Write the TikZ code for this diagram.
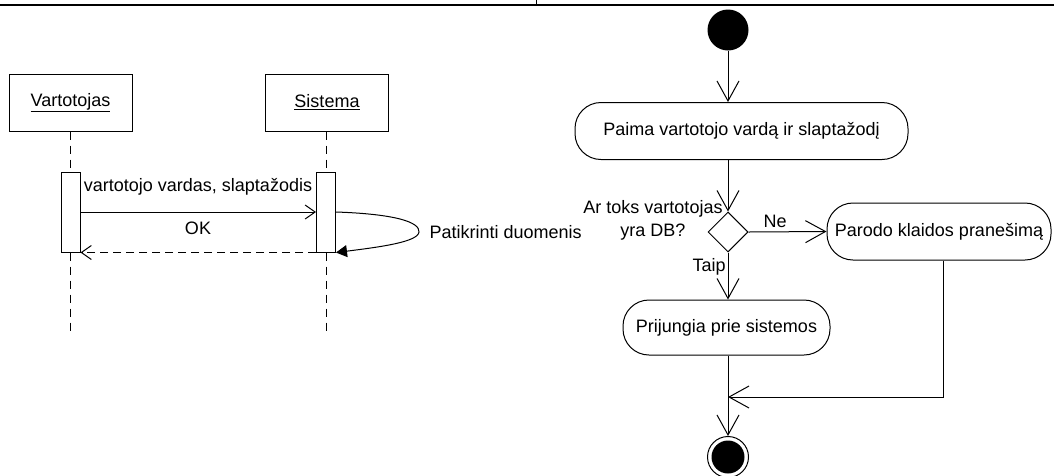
\documentclass[tikz,border=0pt]{standalone}
\usepackage{fontspec}
\setmainfont{Liberation Sans}
\usetikzlibrary{arrows.meta,shapes.geometric}
\begin{document}
\begin{tikzpicture}[x=1pt,y=-1pt,
  font=\fontsize{18}{22.5}\selectfont,
  line width=1pt,
  obj/.style={draw, minimum width=123pt, minimum height=57pt, inner sep=0pt},
  actbar/.style={draw, fill=white, minimum width=19pt, minimum height=80pt, inner sep=0pt},
  life/.style={dash pattern=on 8pt off 6pt},
  msg/.style={-{Straight Barb[length=10pt,width=14pt]}},
  ret/.style={msg, dash pattern=on 8pt off 5pt},
  action/.style={draw, rounded corners=26pt, minimum height=57pt, inner sep=0pt},
  flow/.style={-{Straight Barb[length=20pt,width=22pt]}},
  lbl/.style={inner sep=0pt}
]
\useasboundingbox (0,0) rectangle (1054,475);

% table rule above the diagrams
\draw[line width=2.5pt] (0,5) -- (1054,5);
\draw[line width=0.6pt] (536,0) -- (536,5);

% ---------- sequence diagram ----------
\node[obj] (u) at (70.5,102.5) {\underline{Vartotojas}};
\node[obj] (s) at (327,102.5) {\underline{Sistema}};
\node[actbar] (ua) at (70.5,212) {};
\node[actbar] (sa) at (326,212) {};
\coordinate (uend) at (70.5,333);
\coordinate (send) at (326,333);

\draw[life] (u.south) -- (ua.north);
\draw[life] (ua.south) -- (uend);
\draw[life] (s.south -| sa.north) -- (sa.north);
\draw[life] (sa.south) -- (send);

\draw[msg] (ua.east) -- (sa.west);
\node[lbl] at (198,187) {vartotojo vardas, slaptažodis};
\draw[ret] (sa.south west) -- (ua.south east);
\node[lbl] at (198,228) {OK};

\draw[-{Triangle[length=11pt,width=12pt]}] (sa.east)
  .. controls (395,214) and (420,222) .. (419,232)
  .. controls (418,242) and (380,247) .. (sa.south east);
\node[lbl, anchor=west] at (429,232) {Patikrinti duomenis};

% ---------- activity diagram ----------
\node[circle, fill, minimum size=41pt, inner sep=0pt] (start) at (728,30) {};
\node[action, minimum width=333pt] (a1) at (741.5,131) {Paima vartotojo vardą ir slaptažodį};
\node[diamond, draw, minimum width=40pt, minimum height=40pt, inner sep=0pt] (d) at (728,232) {};
\node[action, minimum width=224pt] (a2) at (939,231.5) {Parodo klaidos pranešimą};
\node[action, minimum width=207pt, minimum height=55pt] (a3) at (726.5,327.5) {Prijungia prie sistemos};
\node[circle, draw, minimum size=41pt, inner sep=0pt] (end) at (728,457) {};
\fill (end.center) circle (16.5pt);

\draw[flow] (start) -- (start |- a1.north);
\draw[flow] (a1.south -| d.north) -- (d.north);
\node[lbl, align=center] at (653,220.5) {Ar toks vartotojas\\yra DB?};
\draw[flow] (d.east) -- (a2.west);
\node[lbl] at (775,221) {Ne};
\draw[flow] (d.south) -- (d.south |- a3.north);
\node[lbl] at (709,267) {Taip};

\coordinate (m) at (728,397);
\coordinate (c) at (943,397);
\draw[flow] (a2.south -| c) -- (c) -- (m);
\draw[flow] (end.north |- a3.south) -- (end.north);
\end{tikzpicture}
\end{document}
